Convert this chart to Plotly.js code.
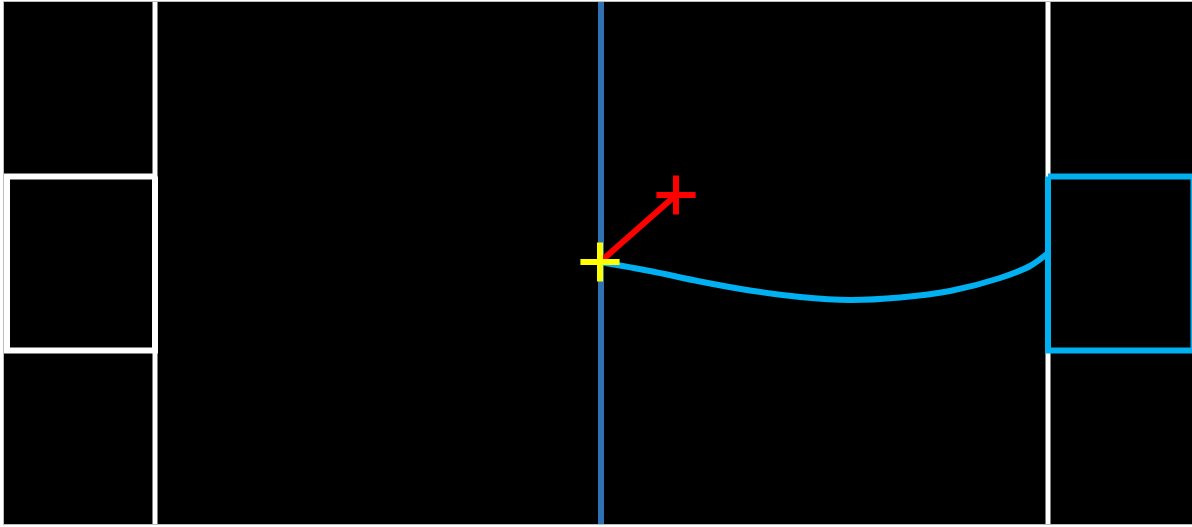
<!DOCTYPE html>
<html>
<head>
<meta charset="utf-8">
<script src="https://cdn.plot.ly/plotly-3.0.1.min.js"></script>
<style>html,body{margin:0;padding:0;background:#fff;}#chart{width:1192px;height:527px;}</style>
</head>
<body>
<div id="chart"></div>
<script>
// Field geometry (data units)
const fieldX = [-59.75, 59.05];
const fieldY = [-26.1, 26.1];
const leftLineX = [-44.65, -44.65];
const rightLineX = [44.65, 44.65];
const fullLineY = [-26.1, 26.1];
const leftBoxX = [-44.65, -59.45, -59.45, -44.65, -44.65];
const leftBoxY = [8.65, 8.65, -8.75, -8.75, 8.65];
const rightBoxX = [44.65, 59.2, 59.2, 44.65, 44.65];
const rightBoxY = [8.65, 8.65, -8.75, -8.75, 8.65];
const centerLineX = [-0.05, -0.05];

// Path (curve) from origin to right box
const pathX = [-0.15, 4.85, 9.85, 14.85, 19.85, 24.85, 29.85, 34.85, 39.85, 42.85, 44.65];
const pathY = [0.1, -0.8, -1.85, -2.75, -3.4, -3.7, -3.45, -2.8, -1.5, -0.3, 1.0];

// Origin point and target point
const originX = [-0.15];
const originY = [0.1];
const targetX = [7.45];
const targetY = [6.8];

const traces = [
  {x: leftLineX, y: fullLineY, mode: 'lines', line: {color: '#ffffff', width: 5}},
  {x: rightLineX, y: fullLineY, mode: 'lines', line: {color: '#ffffff', width: 5}},
  {x: leftBoxX, y: leftBoxY, mode: 'lines', line: {color: '#ffffff', width: 6}},
  {x: centerLineX, y: fullLineY, mode: 'lines', line: {color: '#2f72b4', width: 6}},
  {x: rightBoxX, y: rightBoxY, mode: 'lines', line: {color: '#00b0f0', width: 6}},
  {x: pathX, y: pathY, mode: 'lines', line: {color: '#00b0f0', width: 6, shape: 'spline', smoothing: 1}},
  {x: [originX[0], targetX[0]], y: [originY[0], targetY[0]], mode: 'lines', line: {color: '#ff0000', width: 6}},
  {x: targetX, y: targetY, mode: 'markers', marker: {symbol: 'cross-thin', size: 28, color: '#ff0000', line: {color: '#ff0000', width: 6}}},
  {x: originX, y: originY, mode: 'markers', marker: {symbol: 'cross-thin', size: 28, color: '#ffff00', line: {color: '#ffff00', width: 6}}}
];

const axisCommon = {showgrid: false, zeroline: false, showticklabels: false, ticks: '', showline: true, mirror: true, linecolor: '#bdbdbd', linewidth: 1, fixedrange: true};

const layout = {
  width: 1192, height: 527,
  margin: {l: 4, r: 0, t: 2, b: 3, pad: 0},
  paper_bgcolor: '#ffffff',
  plot_bgcolor: '#000000',
  showlegend: false,
  xaxis: Object.assign({range: fieldX}, axisCommon),
  yaxis: Object.assign({range: fieldY}, axisCommon)
};

Plotly.newPlot('chart', traces, layout, {displayModeBar: false, staticPlot: true});
</script>
</body>
</html>
